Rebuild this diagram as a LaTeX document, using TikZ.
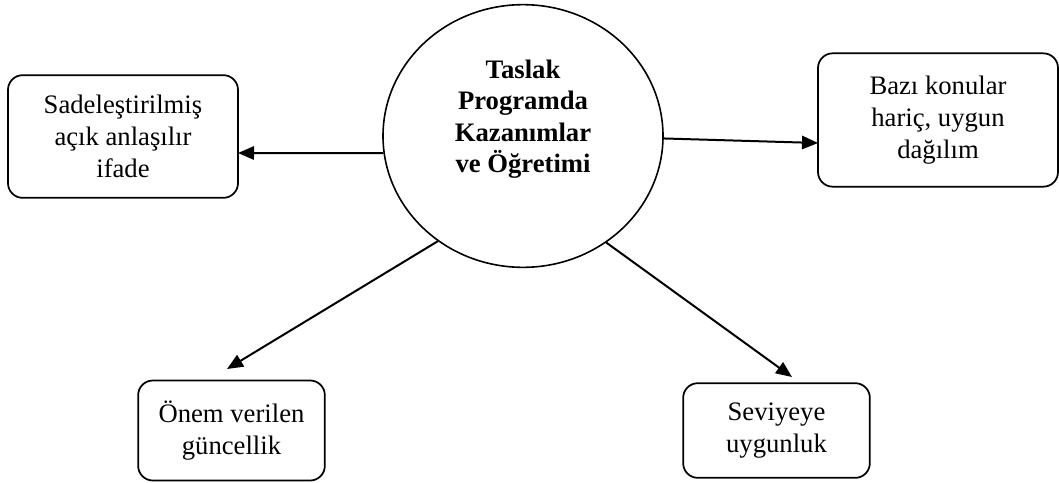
\documentclass[tikz,border=0pt]{standalone}
\usepackage{fontspec}
\setmainfont{Liberation Serif}
\usetikzlibrary{arrows.meta,shapes.geometric}
\begin{document}
\begin{tikzpicture}[x=0.75pt,y=-0.75pt,
  box/.style={draw,line width=1.3pt,rounded corners=11pt,inner sep=0pt,align=center,
    font=\fontsize{20}{24}\selectfont},
  conn/.style={line width=1.5pt,-{Triangle[length=12pt,width=10pt]}}]
\useasboundingbox (0,0) rectangle (1059,482);
\node[draw,ellipse,line width=1.2pt,minimum width=210pt,minimum height=197pt,inner sep=0pt,
  align=center,font=\bfseries\fontsize{20}{23.5}\selectfont] (c) at (523,136)
  {Taslak\\Programda\\Kazanımlar\\ve Öğretimi\\[0.3em]};
\node[box,minimum width=172.5pt,minimum height=92pt] (l) at (123,136.5)
  {Sadeleştirilmiş\\açık anlaşılır\\ifade};
\node[box,minimum width=180pt,minimum height=100pt] (r) at (938,120)
  {Bazı konular\\hariç, uygun\\dağılım};
\node[box,minimum width=140pt,minimum height=75pt] (bl) at (231.5,430.5)
  {Önem verilen\\güncellik};
\node[box,minimum width=140pt,minimum height=71pt] (br) at (776.5,430.5)
  {Seviyeye\\uygunluk};
\coordinate (lt) at (238,153);
\coordinate (rt) at (818,143);
\coordinate (blt) at (227,369);
\coordinate (brt) at (792,377);
\draw[conn] (c.187.7) -- (lt);
\draw[conn] (c.-1) -- (rt);
\draw[conn] (c.231) -- (blt);
\draw[conn] (c.-52) -- (brt);
\end{tikzpicture}
\end{document}
